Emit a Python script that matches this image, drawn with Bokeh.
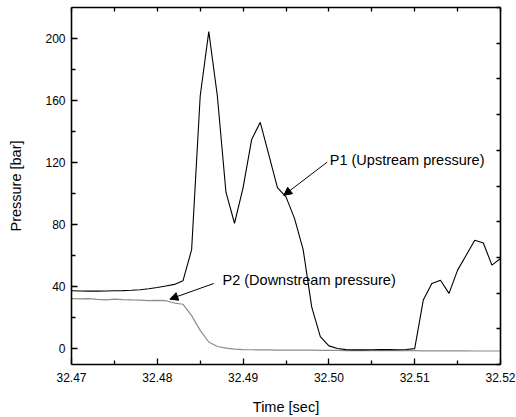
from bokeh.plotting import figure
from bokeh.models import (Range1d, LinearAxis, FixedTicker, Label, Arrow, NormalHead,
                          NumeralTickFormatter, CustomJSTickFormatter)
from bokeh.embed import file_html
from bokeh.resources import INLINE

time_s = [32.470, 32.471, 32.472, 32.473, 32.474, 32.475, 32.476, 32.477, 32.478, 32.479,
          32.480, 32.481, 32.482, 32.483, 32.484, 32.485, 32.486, 32.487, 32.488, 32.489,
          32.490, 32.491, 32.492, 32.493, 32.494, 32.495, 32.496, 32.497, 32.498, 32.499,
          32.500, 32.501, 32.502, 32.503, 32.504, 32.505, 32.506, 32.507, 32.508, 32.509,
          32.510, 32.511, 32.512, 32.513, 32.514, 32.515, 32.516, 32.517, 32.518, 32.519,
          32.520]
p1_upstream = [37.5, 37.4, 37.3, 37.3, 37.4, 37.5, 37.6, 37.8, 38.2, 38.8,
               39.6, 40.6, 41.6, 44.0, 64.0, 163.0, 204.5, 163.0, 101.0, 81.0,
               104.0, 135.0, 146.0, 125.0, 104.0, 98.0, 84.0, 64.0, 27.0, 8.0,
               2.0, 0.3, -0.4, -0.6, -0.6, -0.5, -0.4, -0.4, -0.5, -0.3,
               0.2, 31.5, 42.2, 44.3, 35.8, 50.8, 60.4, 70.0, 68.3, 54.0,
               58.3]
p2_downstream = [32.5, 32.3, 32.4, 31.9, 31.6, 32.1, 31.8, 31.6, 31.5, 31.2,
                 31.3, 31.1, 29.6, 28.8, 21.5, 12.0, 4.5, 1.6, 0.5, -0.1,
                 -0.4, -0.5, -0.6, -0.6, -0.7, -0.7, -0.8, -0.8, -0.8, -0.9,
                 -0.9, -0.9, -1.0, -1.0, -1.0, -1.0, -1.1, -1.1, -1.1, -1.1,
                 -1.1, -1.2, -1.2, -1.2, -1.2, -1.2, -1.2, -1.3, -1.3, -1.3,
                 -1.3]
x_major_ticks = [32.47, 32.48, 32.49, 32.50, 32.51, 32.52]
x_minor_ticks = [32.475, 32.485, 32.495, 32.505, 32.515]
y_major_ticks = [0, 40, 80, 120, 160, 200]
y_minor_ticks = [20, 60, 100, 140, 180]
top_ticks = [32.47, 32.475, 32.48, 32.485, 32.49, 32.495, 32.50, 32.505, 32.51, 32.515, 32.52]
right_ticks = [0, 1, 2, 3, 4, 5, 6, 7, 8, 9, 10]

# annotation anchors (data space)
p1_text_pos = (32.5001, 121.5)
p1_arrow = (32.4998, 120.4, 32.49474, 99.0)
p2_text_pos = (32.4876, 44.3)
p2_arrow = (32.48658, 42.2, 32.48146, 32.1)

FONT = "Liberation Sans"

p = figure(width=516, height=417, output_backend="svg", toolbar_location=None,
           x_range=Range1d(32.47, 32.52), y_range=Range1d(-10, 220),
           min_border_left=71, min_border_right=16, min_border_top=7, min_border_bottom=53)
p.outline_line_color = None
p.grid.visible = False
p.background_fill_color = "white"
p.border_fill_color = "white"

p.line(time_s, p2_downstream, line_color="#8c8c8c", line_width=1.2)
p.line(time_s, p1_upstream, line_color="black", line_width=1.1)

xa = p.xaxis[0]
xa.ticker = FixedTicker(ticks=x_major_ticks, minor_ticks=x_minor_ticks)
xa.formatter = NumeralTickFormatter(format="0.00")
xa.axis_label = "Time [sec]"
ya = p.yaxis[0]
ya.ticker = FixedTicker(ticks=y_major_ticks, minor_ticks=y_minor_ticks)
ya.axis_label = "Pressure [bar]"

for ax in (xa, ya):
    ax.axis_line_width = 1.6
    ax.axis_line_color = "black"
    ax.major_tick_in = 6
    ax.major_tick_out = 0
    ax.minor_tick_in = 4
    ax.minor_tick_out = 0
    ax.major_tick_line_width = 1.3
    ax.minor_tick_line_width = 1.3
    ax.major_tick_line_color = "black"
    ax.minor_tick_line_color = "black"
    ax.major_label_text_font = FONT
    ax.major_label_text_font_size = "12px"
    ax.major_label_text_color = "black"
    ax.axis_label_text_font = FONT
    ax.axis_label_text_font_size = "14.5px"
    ax.axis_label_text_font_style = "normal"
    ax.axis_label_text_color = "black"
xa.major_label_standoff = 8
xa.axis_label_standoff = 14
ya.major_label_standoff = 6
ya.axis_label_standoff = 18

blank = CustomJSTickFormatter(code="return ''")

top = LinearAxis(ticker=FixedTicker(ticks=top_ticks, minor_ticks=[]), formatter=blank,
                 major_label_standoff=0,
                 axis_line_width=1.6, major_tick_in=4, major_tick_out=0,
                 major_tick_line_width=1.3, minor_tick_in=0, minor_tick_out=0)
p.add_layout(top, "above")

p.extra_y_ranges = {"r": Range1d(0, 10)}
right = LinearAxis(y_range_name="r", ticker=FixedTicker(ticks=right_ticks, minor_ticks=[]),
                   formatter=blank, major_label_standoff=0,
                   axis_line_width=1.6, major_tick_in=4, major_tick_out=0,
                   major_tick_line_width=1.3, minor_tick_in=0, minor_tick_out=0)
p.add_layout(right, "right")

head1 = NormalHead(size=8, fill_color="black", line_color="black", line_width=1)
p.add_layout(Arrow(end=head1, x_start=p1_arrow[0], y_start=p1_arrow[1],
                   x_end=p1_arrow[2], y_end=p1_arrow[3], line_color="black", line_width=1))
head2 = NormalHead(size=8, fill_color="black", line_color="black", line_width=1)
p.add_layout(Arrow(end=head2, x_start=p2_arrow[0], y_start=p2_arrow[1],
                   x_end=p2_arrow[2], y_end=p2_arrow[3], line_color="black", line_width=1))
p.add_layout(Label(x=p1_text_pos[0], y=p1_text_pos[1], text="P1 (Upstream pressure)",
                   text_baseline="middle", text_font=FONT, text_font_size="14.5px",
                   text_color="black"))
p.add_layout(Label(x=p2_text_pos[0], y=p2_text_pos[1], text="P2 (Downstream pressure)",
                   text_baseline="middle", text_font=FONT, text_font_size="14.5px",
                   text_color="black"))

open("out.html", "w").write(file_html(p, INLINE))
